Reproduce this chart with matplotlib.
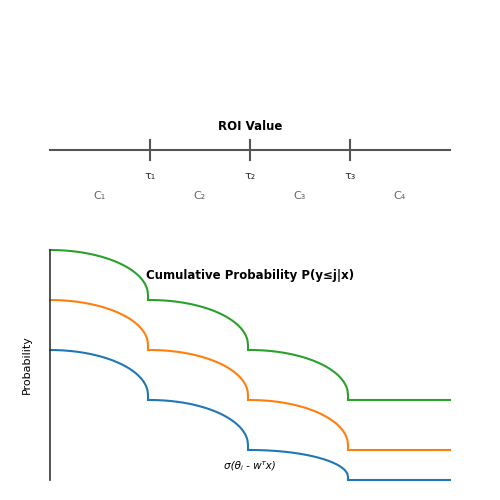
import numpy as np
import matplotlib.pyplot as plt

# levels of each curve at the start of each segment (pixel-like coords, y down)
seg_edges = [50, 150, 250, 350, 450]
green = [250, 300, 350, 400, 400]
orange = [300, 350, 400, 450, 450]
blue = [350, 400, 450, 480, 480]
colors = ['#2ca02c', '#ff7f0e', '#1f77b4']
thresholds = [150, 250, 350]
tau_labels = ['τ₁', 'τ₂', 'τ₃']
class_labels = ['C₁', 'C₂', 'C₃', 'C₄']

fig = plt.figure(figsize=(5, 5), dpi=100)
ax = fig.add_axes([0, 0, 1, 1])
ax.set_xlim(0, 500)
ax.set_ylim(500, 0)
ax.axis('off')

# ROI number line
ax.plot([50, 450], [150, 150], color='#555555', lw=1.5)
for t, lab in zip(thresholds, tau_labels):
    ax.plot([t, t], [140, 160], color='#555555', lw=1.5)
    ax.text(t, 176, lab, ha='center', va='center', fontsize=8, color='#333333')
for i, lab in enumerate(class_labels):
    ax.text(100 + 100 * i, 196, lab, ha='center', va='center', fontsize=8, color='#666666')
ax.text(250, 126, 'ROI Value', ha='center', va='center', fontsize=8.5, fontweight='bold')

# cumulative curves
for levels, c in zip([green, orange, blue], colors):
    for i in range(4):
        x0, x1 = seg_edges[i], seg_edges[i + 1]
        top, nxt = levels[i], levels[i + 1]
        if nxt == top:
            ax.plot([x0, x1], [top, top], color=c, lw=1.5)
            continue
        t = np.linspace(0, 1, 200)
        drop = (nxt - top) * 0.9
        y = top + drop * (1 - np.sqrt(1 - t ** 2))
        xs = x0 + t * (x1 - x0 - 2)
        xs = np.append(xs, xs[-1])
        y = np.append(y, nxt)
        ax.plot(xs, y, color=c, lw=1.5)

ax.plot([50, 50], [250, 480], color='#333333', lw=1.2)
ax.text(250, 276, 'Cumulative Probability P(y≤j|x)', ha='center', va='center',
        fontsize=8.5, fontweight='bold')
ax.text(27, 365, 'Probability', rotation=90, ha='center', va='center', fontsize=8)
ax.text(250, 466, 'σ(θⱼ - wᵀx)', ha='center', va='center', fontsize=7.5, style='italic')

fig.savefig('out.png')
